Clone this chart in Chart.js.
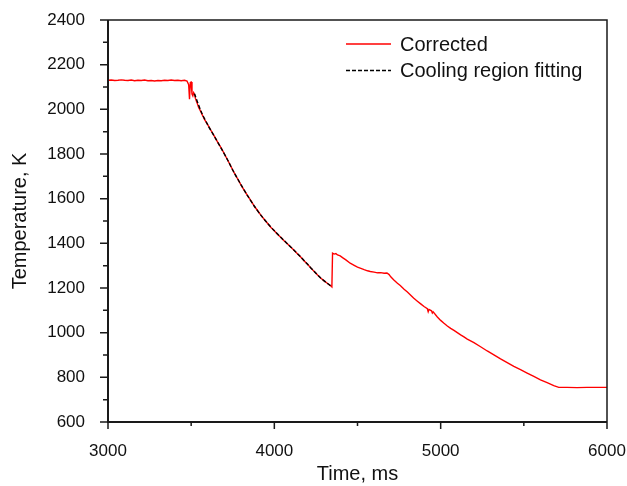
<!DOCTYPE html>
<html>
<head>
<meta charset="utf-8">
<script src="https://cdn.jsdelivr.net/npm/chart.js@4"></script>
<style>
  html, body { margin: 0; padding: 0; background: #fff; }
  #wrap { width: 627px; height: 486px; }
</style>
</head>
<body>
<div id="wrap"><canvas id="chart" width="627" height="486"></canvas></div>
<script>
// ---------- data ----------
const correctedTime = [
  3000, 3020, 3040, 3060, 3080, 3100, 3120, 3140, 3160, 3180, 3200, 3220, 3240, 3260, 3280,
  3300, 3320, 3340, 3360, 3380, 3400, 3420, 3440, 3460, 3475,
  3485, 3490, 3495, 3500, 3505, 3510, 3515, 3520, 3525, 3535, 3545, 3555, 3565, 3580,
  3600, 3620, 3640, 3660, 3680, 3700, 3720, 3740, 3760, 3780, 3800, 3820, 3840, 3860, 3880,
  3900, 3920, 3940, 3960, 3980, 4000, 4020, 4040, 4060, 4080, 4100, 4120, 4140, 4160, 4180,
  4200, 4220, 4240, 4260, 4280, 4300, 4320, 4340, 4346,
  4350, 4360, 4370, 4380, 4396, 4410, 4430, 4456, 4480, 4500, 4516, 4540, 4560, 4577, 4600,
  4620, 4640, 4660, 4677, 4690, 4700, 4717, 4740, 4757, 4780, 4800, 4820, 4837, 4860, 4880,
  4900, 4920, 4925, 4930, 4945, 4950, 4955, 4980, 5000, 5020, 5040, 5060, 5080, 5100, 5120,
  5140, 5160, 5200, 5240, 5280, 5320, 5360, 5400, 5440, 5480, 5520, 5560, 5600, 5640, 5680,
  5710, 5760, 5820, 5880, 5940, 6000
];
const correctedTemp = [
  2130, 2131, 2129, 2130, 2132, 2130, 2129, 2131, 2128, 2130, 2129, 2131, 2128, 2129, 2127,
  2129, 2128, 2130, 2129, 2131, 2129, 2130, 2128, 2130, 2127,
  2110, 2045, 2120, 2122, 2068, 2060, 2075, 2068, 2050, 2030, 2008, 1994, 1978, 1955,
  1930, 1904, 1879, 1852, 1827, 1800, 1772, 1743, 1714, 1688, 1661, 1636, 1612, 1590, 1566,
  1546, 1525, 1507, 1489, 1471, 1456, 1440, 1426, 1410, 1397, 1382, 1368, 1352, 1338, 1321,
  1306, 1289, 1274, 1258, 1244, 1232, 1220, 1209, 1205,
  1356, 1352, 1354, 1348, 1344, 1336, 1326, 1311, 1301, 1293, 1289, 1282, 1277, 1274, 1271,
  1268, 1269, 1266, 1267, 1260, 1250, 1237, 1221, 1211, 1194, 1182, 1168, 1155, 1141, 1129,
  1117, 1107, 1094, 1104, 1098, 1088, 1093, 1070, 1055, 1042, 1030, 1019, 1010, 1000, 990,
  981, 971, 955, 937, 918, 901, 883, 866, 849, 834, 819, 804, 789, 776, 763,
  755, 755, 754, 755, 755, 755
];

const fitTime = [
  3520, 3560, 3600, 3640, 3680, 3720, 3760, 3800, 3840, 3880, 3920, 3960, 4000,
  4040, 4080, 4120, 4160, 4200, 4240, 4280, 4320, 4345
];
const fitTemp = [
  2070, 1990, 1930, 1878, 1826, 1772, 1714, 1662, 1612, 1566, 1525, 1489, 1456,
  1426, 1397, 1368, 1338, 1306, 1274, 1244, 1220, 1206
];

const xTicks = [3000, 4000, 5000, 6000];
const yTicks = [600, 800, 1000, 1200, 1400, 1600, 1800, 2000, 2200, 2400];

// ---------- layout ----------
const FONT = "'Liberation Sans', Arial, sans-serif";
const INK = "#1a1a1a";

function toPoints(xs, ys) {
  return xs.map((x, i) => ({ x, y: ys[i] }));
}

// frame, major + minor ticks (Origin style: outward, left/bottom only)
const framePlugin = {
  id: "frame",
  afterDatasetsDraw(chart) {
    const { ctx, chartArea: a, scales } = chart;
    ctx.save();
    ctx.strokeStyle = INK;

    ctx.lineWidth = 1.5;
    ctx.beginPath();
    ctx.moveTo(a.left, a.top);
    ctx.lineTo(a.right, a.top);
    ctx.lineTo(a.right, a.bottom);
    ctx.stroke();

    ctx.lineWidth = 2;
    ctx.beginPath();
    ctx.moveTo(a.left, a.top);
    ctx.lineTo(a.left, a.bottom);
    ctx.lineTo(a.right, a.bottom);
    ctx.stroke();

    ctx.lineWidth = 1.5;
    ctx.beginPath();
    for (let v = 600; v <= 2400; v += 100) {
      const y = scales.y.getPixelForValue(v);
      const len = v % 200 === 0 ? 8 : 5;
      ctx.moveTo(a.left, y);
      ctx.lineTo(a.left - len, y);
    }
    for (let v = 3000; v <= 6000; v += 500) {
      const x = scales.x.getPixelForValue(v);
      const len = v % 1000 === 0 ? 7 : 4;
      ctx.moveTo(x, a.bottom);
      ctx.lineTo(x, a.bottom + len);
    }
    ctx.stroke();
    ctx.restore();
  },
  afterDraw(chart) {
    // legend inside the plot, top right
    const { ctx } = chart;
    const items = chart.data.datasets;
    ctx.save();
    ctx.font = `20px ${FONT}`;
    ctx.textBaseline = "middle";
    items.forEach((ds, i) => {
      const y = 44 + i * 26.5;
      ctx.strokeStyle = ds.borderColor;
      ctx.lineWidth = 1.3;
      ctx.setLineDash(ds.borderDash || []);
      ctx.beginPath();
      ctx.moveTo(346, y);
      ctx.lineTo(391, y);
      ctx.stroke();
      ctx.setLineDash([]);
      ctx.fillStyle = "#111";
      ctx.fillText(ds.label, 400, y + 1);
    });
    ctx.restore();
  },
};

new Chart(document.getElementById("chart"), {
  type: "line",
  data: {
    datasets: [
      {
        label: "Corrected",
        data: toPoints(correctedTime, correctedTemp),
        borderColor: "#ff0000",
        borderWidth: 1.4,
        pointRadius: 0,
        tension: 0,
        order: 2,
      },
      {
        label: "Cooling region fitting",
        data: toPoints(fitTime, fitTemp),
        borderColor: "#000000",
        borderWidth: 1.4,
        borderDash: [4, 2],
        pointRadius: 0,
        tension: 0.3,
        order: 1,
      },
    ],
  },
  options: {
    responsive: false,
    animation: false,
    layout: { padding: { left: 0, top: 20, right: 20, bottom: 0 } },
    plugins: { legend: { display: false }, tooltip: { enabled: false } },
    scales: {
      x: {
        type: "linear",
        min: 3000,
        max: 6000,
        afterBuildTicks: (s) => { s.ticks = xTicks.map((v) => ({ value: v })); },
        afterFit: (s) => { s.height = 64; s.paddingLeft = 0; s.paddingRight = 0; },
        grid: { display: false },
        border: { display: false },
        ticks: {
          color: "#111",
          padding: 11,
          maxRotation: 0,
          font: { family: FONT, size: 17 },
          callback: (v) => String(v),
        },
        title: {
          display: true,
          text: "Time, ms",
          color: "#111",
          padding: { top: 0, bottom: 0 },
          font: { family: FONT, size: 20 },
        },
      },
      y: {
        min: 600,
        max: 2400,
        afterBuildTicks: (s) => { s.ticks = yTicks.map((v) => ({ value: v })); },
        afterFit: (s) => { s.width = 108; s.paddingTop = 0; s.paddingBottom = 0; },
        grid: { display: false },
        border: { display: false },
        ticks: {
          color: "#111",
          padding: 15,
          font: { family: FONT, size: 17 },
          callback: (v) => String(v),
        },
        title: {
          display: true,
          text: "Temperature, K",
          color: "#111",
          padding: { top: 8, bottom: 0 },
          font: { family: FONT, size: 20 },
        },
      },
    },
  },
  plugins: [framePlugin],
});
</script>
</body>
</html>
